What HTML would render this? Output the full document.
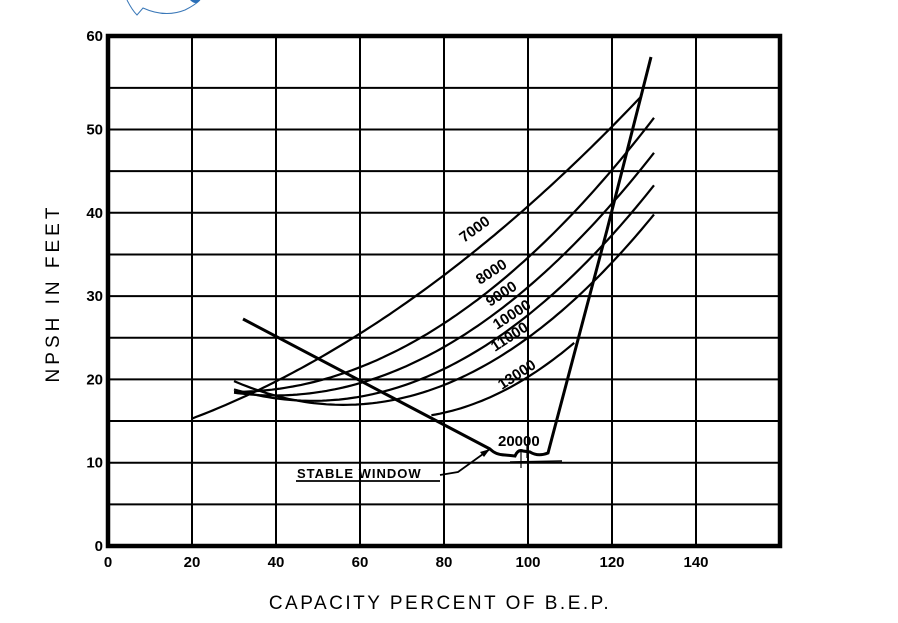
<!DOCTYPE html>
<html><head><meta charset="utf-8"><style>
body{margin:0;background:#fff}
svg{display:block}
text{font-family:"Liberation Sans","DejaVu Sans",sans-serif;fill:#000}
</style></head><body>
<svg id="s" width="898" height="623" viewBox="0 0 898 623" xmlns="http://www.w3.org/2000/svg">
<path d="M127 0 Q132 10 137 15 L143 8 Q165 18 185 10 Q195 5 200 0" fill="none" stroke="#3a78b8" stroke-width="1"/>
<path d="M190 0 Q196 6 200 0 Z" fill="#2a6fb8"/>
<g id="grid" stroke="#000" stroke-width="2"></g>
<rect x="108" y="36" width="672" height="510" fill="none" stroke="#000" stroke-width="4.5"/>
<g id="curves" fill="none" stroke="#000" stroke-width="2.2"></g>
<path d="M243 319 L490 449 Q496 455 505 455 L515 456 Q518 449 523 451 L530 452 Q538 457 548 453 Q577 343 607 230 Q630 140 651 57" fill="none" stroke="#000" stroke-width="3"/>
<path d="M510 462 L562 461" stroke="#000" stroke-width="1.5"/>
<path d="M521 452 L521 468 M527 444 L527 458" stroke="#000" stroke-width="1.2"/>
<path d="M296 481 L440 481 M440 475 L458 472 L490 449" fill="none" stroke="#000" stroke-width="1.8"/>
<path d="M490 449 L480 452 L484 457 Z" fill="#000"/>
<text x="297" y="478" font-size="13" font-weight="bold" letter-spacing="1">STABLE  WINDOW</text>
<g font-size="15" font-weight="bold">
<text transform="translate(464,243) rotate(-36)">7000</text>
<text transform="translate(480,285) rotate(-33)">8000</text>
<text transform="translate(490,307) rotate(-33)">9000</text>
<text transform="translate(497,330) rotate(-33)">10000</text>
<text transform="translate(495,352) rotate(-33)">11000</text>
<text transform="translate(502,390) rotate(-33)">13000</text>
<text x="498" y="446">20000</text>
</g>
<g id="lab" font-size="15" font-weight="bold"></g>
<text x="440" y="609" font-size="19" text-anchor="middle" letter-spacing="2.5">CAPACITY  PERCENT  OF  B.E.P.</text>
<text transform="translate(59,293) rotate(-90)" font-size="19" text-anchor="middle" letter-spacing="4">NPSH  IN  FEET</text>
</svg>
<script>
var X=function(v){return 108+4.2*v},Y=function(v){return 546-8.33*v};
var g=document.getElementById('grid'),h='';
for(var i=20;i<160;i+=20)h+='<line x1="'+X(i)+'" y1="36" x2="'+X(i)+'" y2="546"/>';
for(var j=5;j<=55;j+=5)h+='<line x1="108" y1="'+Y(j)+'" x2="780" y2="'+Y(j)+'"/>';
g.innerHTML=h;
var l='';
for(var i=0;i<=140;i+=20)l+='<text x="'+X(i)+'" y="567" text-anchor="middle">'+i+'</text>';
for(var j=0;j<=60;j+=10)l+='<text x="103" y="'+((j==60?36:Y(j))+5)+'" text-anchor="end">'+j+'</text>';
document.getElementById('lab').innerHTML=l;
function fit(p){var x0=p[0][0],y0=p[0][1],x1=p[1][0],y1=p[1][1],x2=p[2][0],y2=p[2][1];
var c=((y2-y0)/(x2-x0)-(y1-y0)/(x1-x0))/(x2-x1);var b=(y1-y0)/(x1-x0)-c*(x1+x0);var a=y0-b*x0-c*x0*x0;return function(x){return a+b*x+c*x*x}}
var cs=[
 [[20,15.3],[60,25.5],[127,54],20,127.5],
 [[30,18.5],[84,28.1],[130,51.4],30,130],
 [[30,18.4],[84,25.1],[130,47.2],30,130],
 [[30,18.8],[84,22.3],[130,43.3],30,130],
 [[30,19.8],[84,20.2],[130,39.8],30,130],
 [[77,15.7],[100,20.3],[111.5,24.6],77,111.5]];
var o='';
cs.forEach(function(c){var f=fit(c);var d='';for(var x=c[3];x<=c[4]+0.01;x+=1){d+=(d?'L':'M')+X(x).toFixed(1)+' '+Y(f(x)).toFixed(1)}o+='<path d="'+d+'"/>'});
document.getElementById('curves').innerHTML=o;
</script>
</body></html>
